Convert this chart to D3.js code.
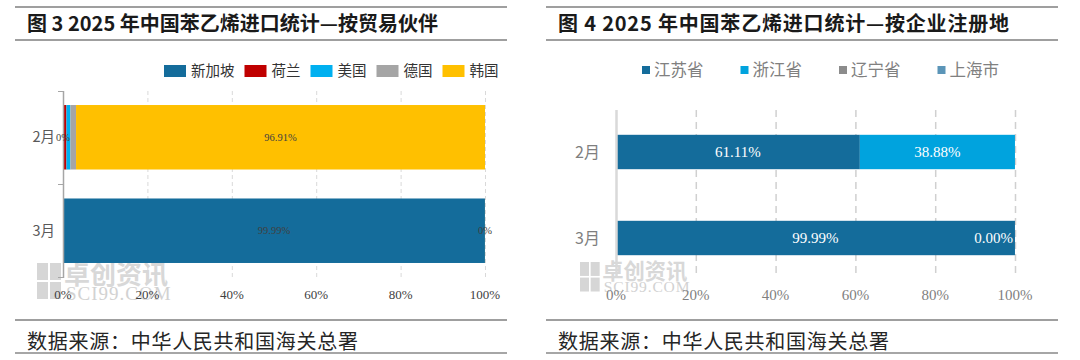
<!DOCTYPE html>
<html><head><meta charset="utf-8">
<script src="https://cdn.jsdelivr.net/npm/d3@7"></script>
<style>
html,body{margin:0;padding:0;background:#fff;}
svg{display:block;}
</style></head>
<body>
<svg id="c" width="1080" height="360"></svg>
<script>
// ---------- data ----------
const months = ["2月", "3月"];
// left chart: by trade partner
const partnerNames = ["新加坡", "荷兰", "美国", "德国", "韩国"];
const singapore = [0, 99.99];
const netherlands = [0.81, 0];
const usa = [0.95, 0];
const germany = [1.33, 0];
const korea = [96.91, 0.01];
const partnerLabeled = ["新加坡", "韩国"];
// right chart: by registration province
const provinceNames = ["江苏省", "浙江省", "辽宁省", "上海市"];
const jiangsu = [61.11, 99.99];
const zhejiang = [38.88, 0.004];
const liaoning = [0, 0];
const shanghai = [0, 0];
const provinceLabeled = ["江苏省", "浙江省"];
const pctTicks = [0, 20, 40, 60, 80, 100];
const leftTitle = "图 3 2025 年中国苯乙烯进口统计—按贸易伙伴";
const rightTitle = "图 4 2025 年中国苯乙烯进口统计—按企业注册地";
const sourceText = "数据来源：中华人民共和国海关总署";

const partnerColors = ["#146C9B", "#C00000", "#00B0F0", "#A5A5A5", "#FFC000"];
const provinceColors = ["#146C9B", "#00A3DE", "#8C8C8C", "#5B95B8"];

const CJK = "'Noto Sans CJK SC', 'Noto Sans', sans-serif";
const SERIF = "'Liberation Serif', 'DejaVu Serif', serif";

const svg = d3.select("#c");

// ---------- panel frames ----------
function frame(x0, x1, title, titleLen) {
  const g = svg.append("g");
  g.append("line").attr("x1", x0).attr("x2", x1).attr("y1", 7).attr("y2", 7)
    .attr("stroke", "#404040").attr("stroke-width", 1.2);
  g.append("line").attr("x1", x0).attr("x2", x1).attr("y1", 40).attr("y2", 40)
    .attr("stroke", "#404040").attr("stroke-width", 1.2);
  g.append("text").attr("x", x0 + 12).attr("y", 31).text(title)
    .attr("font-family", CJK).attr("font-weight", "bold").attr("font-size", 20)
    .attr("textLength", titleLen).attr("lengthAdjust", "spacing")
    .attr("fill", "#1a1a1a");
  g.append("line").attr("x1", x0).attr("x2", x1).attr("y1", 320).attr("y2", 320)
    .attr("stroke", "#404040").attr("stroke-width", 1.2);
  g.append("line").attr("x1", x0).attr("x2", x1).attr("y1", 353).attr("y2", 353)
    .attr("stroke", "#a6a6a6").attr("stroke-width", 2);
  g.append("text").attr("x", x0 + 12).attr("y", 349).text(sourceText)
    .attr("font-family", CJK).attr("font-size", 20)
    .attr("textLength", 331).attr("lengthAdjust", "spacing")
    .attr("fill", "#262626");
}
frame(15, 507, leftTitle, 411);
frame(546, 1058, rightTitle, 451);

// ---------- watermark ----------
function watermark(x, y, s) {
  const g = svg.append("g").attr("transform", `translate(${x},${y}) scale(${s})`);
  [[0,0],[13,0],[0,19],[13,19]].forEach(([dx,dy]) => {
    g.append("rect").attr("x", dx).attr("y", dy).attr("width", 11).attr("height", 17)
      .attr("fill", "#d6d6d6");
  });
  g.append("text").attr("x", 27).attr("y", 21).text("卓创资讯")
    .attr("font-family", CJK).attr("font-weight", "bold").attr("font-size", 26)
    .attr("fill", "#d8d8d8");
  g.append("text").attr("x", 29).attr("y", 37).text("SCI99.COM")
    .attr("font-family", SERIF).attr("font-size", 19).attr("letter-spacing", 1)
    .attr("fill", "#d2d2d2");
}
watermark(37, 263, 1);
watermark(580, 262, 0.82);

// ---------- generic stacked bar ----------
function stackedChart(opt) {
  const rows = months.map((m, i) => {
    const r = { month: m };
    opt.names.forEach((n, k) => r[n] = opt.series[k][i]);
    return r;
  });
  const stacked = d3.stack().keys(opt.names)(rows);
  const x = d3.scaleLinear().domain([0, 100]).range([opt.x0, opt.x1]);
  const y = d3.scaleBand().domain(months).range(opt.yRange)
    .paddingInner(opt.pi).paddingOuter(opt.po);
  const g = svg.append("g");

  // gridlines
  g.append("g").selectAll("line").data(pctTicks.filter(t => t > 0)).join("line")
    .attr("x1", d => x(d) + 0.5).attr("x2", d => x(d) + 0.5)
    .attr("y1", opt.gridY[0]).attr("y2", opt.gridY[1])
    .attr("stroke", opt.gridColor).attr("stroke-width", opt.gridWidth)
    .attr("stroke-dasharray", opt.gridDash);

  // bars
  g.append("g").selectAll("g").data(stacked).join("g")
    .attr("fill", (d, i) => opt.colors[i])
    .selectAll("rect").data(d => d).join("rect")
    .attr("x", d => x(d[0])).attr("width", d => Math.max(0, x(d[1]) - x(d[0])))
    .attr("y", d => y(d.data.month)).attr("height", y.bandwidth());

  // axis line
  g.append("line").attr("x1", opt.x0 + 0.5).attr("x2", opt.x0 + 0.5)
    .attr("y1", opt.gridY[0]).attr("y2", opt.gridY[1] + 1)
    .attr("stroke", opt.axisColor).attr("stroke-width", opt.axisWidth);
  if (opt.axisTicks) {
    const bounds = [opt.gridY[0], (y(months[0]) + y.bandwidth() + y(months[1])) / 2, opt.gridY[1]];
    g.append("g").selectAll("line").data(bounds).join("line")
      .attr("x1", opt.x0 - 5).attr("x2", opt.x0)
      .attr("y1", d => d + 0.5).attr("y2", d => d + 0.5)
      .attr("stroke", opt.axisColor).attr("stroke-width", 1);
  }

  // category labels
  g.append("g").selectAll("text").data(months).join("text")
    .attr("x", opt.catX).attr("y", d => y(d) + y.bandwidth() / 2)
    .attr("dy", "0.35em").attr("text-anchor", "end").text(d => d)
    .attr("font-family", CJK).attr("font-size", opt.catSize).attr("fill", opt.catColor);

  // x tick labels
  g.append("g").selectAll("text").data(pctTicks).join("text")
    .attr("x", d => x(d)).attr("y", opt.tickY).attr("dy", "0.35em")
    .attr("text-anchor", "middle").text(d => d + "%")
    .attr("font-family", SERIF).attr("font-size", opt.tickSize).attr("fill", opt.tickColor);

  // data labels
  const lab = g.append("g");
  stacked.forEach((s, k) => {
    if (!opt.labeled.includes(s.key)) return;
    s.forEach(d => {
      const v = d[1] - d[0];
      const t = lab.append("text")
        .attr("y", y(d.data.month) + y.bandwidth() / 2).attr("dy", "0.35em")
        .attr("text-anchor", "middle").text(opt.fmt(v))
        .attr("font-family", SERIF).attr("font-size", opt.labSize).attr("fill", opt.labColor);
      let cx = (x(d[0]) + x(d[1])) / 2;
      if (opt.clamp) {
        const w = t.node().getComputedTextLength();
        cx = Math.min(cx, opt.x1 - w / 2 - 2);
      }
      t.attr("x", cx);
    });
  });
}

stackedChart({
  names: partnerNames, series: [singapore, netherlands, usa, germany, korea],
  colors: partnerColors, labeled: partnerLabeled,
  x0: 63, x1: 485, yRange: [91, 277], pi: 0.31, po: 0.15, gridY: [91, 277],
  gridColor: "#d9d9d9", gridWidth: 1, gridDash: "4,3",
  axisColor: "#a6a6a6", axisWidth: 1.5, axisTicks: true,
  catX: 55, catSize: 14.5, catColor: "#595959",
  tickY: 294, tickSize: 13, tickColor: "#404040",
  labSize: 10.5, labColor: "#404040",
  fmt: v => v < 0.5 ? "0%" : v.toFixed(2) + "%", clamp: false
});

stackedChart({
  names: provinceNames, series: [jiangsu, zhejiang, liaoning, shanghai],
  colors: provinceColors, labeled: provinceLabeled,
  x0: 616, x1: 1015, yRange: [109, 281], pi: 0.6, po: 0.3, gridY: [110, 277],
  gridColor: "#d0d0d0", gridWidth: 1.5, gridDash: "7,5",
  axisColor: "#d9d9d9", axisWidth: 2.5, axisTicks: false,
  catX: 600, catSize: 16, catColor: "#7f7f7f",
  tickY: 295, tickSize: 15, tickColor: "#7f7f7f",
  labSize: 15, labColor: "#ffffff",
  fmt: v => v.toFixed(2) + "%", clamp: true
});

// ---------- legends ----------
(function () {
  let x = 164;
  const g = svg.append("g");
  partnerNames.forEach((n, i) => {
    g.append("rect").attr("x", x).attr("y", 65).attr("width", 22).attr("height", 12)
      .attr("fill", partnerColors[i]);
    const t = g.append("text").attr("x", x + 27).attr("y", 71).attr("dy", "0.35em").text(n)
      .attr("font-family", CJK).attr("font-size", 14.5).attr("fill", "#333");
    x += 27 + t.node().getComputedTextLength() + 10;
  });
})();
(function () {
  let x = 642;
  const g = svg.append("g");
  provinceNames.forEach((n, i) => {
    g.append("rect").attr("x", x).attr("y", 66).attr("width", 8).attr("height", 8)
      .attr("fill", provinceColors[i]);
    const t = g.append("text").attr("x", x + 12).attr("y", 70).attr("dy", "0.35em").text(n)
      .attr("font-family", CJK).attr("font-size", 16.5).attr("fill", "#808080");
    x += 12 + t.node().getComputedTextLength() + 37;
  });
})();
</script>
</body></html>
